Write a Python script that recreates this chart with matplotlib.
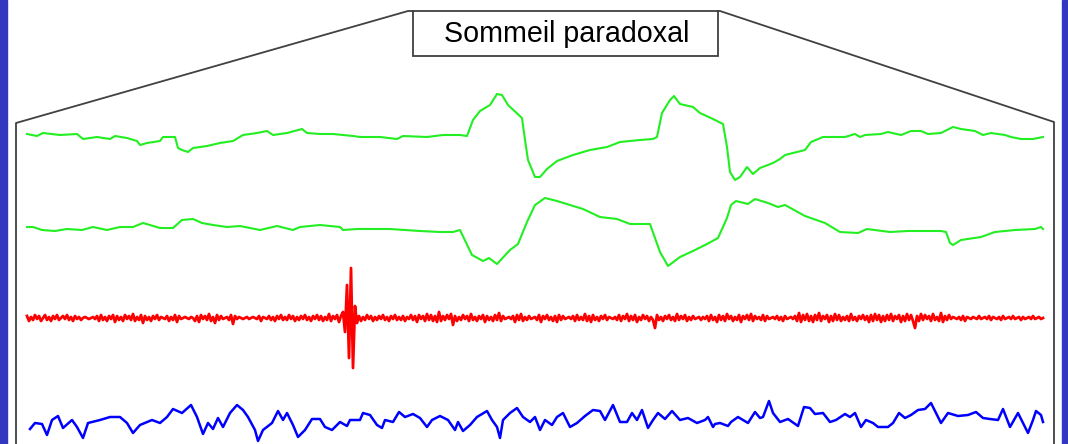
import matplotlib
matplotlib.use('Agg')
import numpy as np
from matplotlib import pyplot as plt
from matplotlib.patches import Rectangle

# EOG 1 (sample position, amplitude)
eog1_t = [27, 37, 43, 60, 77, 83, 97, 110, 115, 127, 137, 140, 147, 160, 163, 175, 178, 182, 188, 193,
          207, 220, 233, 243, 257, 267, 273, 287, 302, 307, 320, 333, 353, 360, 380, 397, 403, 427, 443, 460,
          467, 473, 480, 490, 497, 502, 508, 522, 525, 528, 535, 540, 547, 557, 573, 590, 607, 620, 640, 653,
          657, 662, 670, 674, 680, 693, 700, 713, 723, 727, 730, 735, 740, 747, 753, 760, 773, 780, 785, 805,
          811, 823, 845, 855, 860, 865, 881, 888, 901, 911, 921, 928, 941, 953, 961, 975, 983, 991, 1005, 1011,
          1021, 1033, 1043]
eog1_uv = [1, -1, 2, 0, 1, -4, -2, -4, -1, -3, -6, -10, -8, -6, -2, -2, -13, -15, -17, -13,
           -11, -8, -6, 0, 2, 4, 0, 2, 6, 2, 1, 1, -1, -2, -2, -4, -1, -2, 0, 0,
           -1, 15, 24, 30, 41, 40, 30, 17, -5, -25, -42, -42, -34, -26, -20, -15, -12, -7, -5, -4,
           -2, 22, 35, 39, 31, 28, 22, 16, 11, -12, -37, -45, -42, -32, -39, -33, -28, -24, -20, -15,
           -7, -2, -2, 1, -2, 0, 1, 3, 0, 4, 4, 1, 2, 8, 6, 4, 0, 2, 0, -2,
           -4, -4, -2]

# EOG 2
eog2_t = [27, 33, 42, 55, 67, 82, 93, 107, 120, 133, 143, 160, 173, 182, 193, 202, 213, 227, 240, 260,
          277, 293, 300, 320, 340, 343, 357, 390, 420, 440, 453, 460, 472, 483, 489, 497, 510, 518, 527, 535,
          545, 557, 583, 600, 617, 630, 650, 660, 668, 680, 693, 707, 718, 727, 731, 736, 748, 755, 768, 778,
          785, 805, 825, 840, 858, 867, 890, 908, 941, 946, 950, 953, 961, 981, 995, 1015, 1035, 1041, 1043]
eog2_uv = [1, 1, -2, -3, -1, -2, 1, -2, 1, 1, 5, 0, 0, 8, 9, 5, 3, 1, 2, -2,
           2, -2, 1, 3, 1, -2, -1, -1, -3, -4, -4, -2, -27, -33, -30, -36, -22, -16, 6, 23,
           30, 27, 19, 11, 9, 4, 4, -24, -38, -29, -23, -16, -10, 10, 23, 27, 24, 29, 25, 21,
           23, 12, 5, -4, -5, -1, -4, -3, -3, -4, -15, -17, -12, -9, -4, -2, -1, 1, -1]

# EMG, one value every 2 samples from sample 27
emg_uv = [2, -3, 1, -2, 3, -1, 2, -3, 0, 3, -2, 1, -3, 2, -1, 3, -2, 0, 2, -1,
          3, -2, 1, -3, 2, -1, 1, -2, 0, 1, 0, -1, 0, 1, -1, 2, -3, 3, -2, 1,
          -3, 2, -1, 3, -4, 2, -2, 1, -3, 3, -1, 2, -2, 4, -3, 1, -2, 3, -5, 2,
          -2, 1, -3, 2, -1, 3, -2, 1, 0, -1, 2, -3, 1, -2, 3, -4, 2, -1, 0, 1,
          0, -1, 1, 0, -3, 2, -4, 3, -1, 2, -2, 4, -3, 1, -5, 3, -2, 2, -1, 0,
          1, -2, 3, -6, 2, -1, 1, 0, -1, 0, 1, -1, 0, 1, 0, -1, 2, -3, 1, 0,
          -1, 2, -2, 1, -3, 2, -1, 3, -2, 1, -2, 3, -1, 2, -3, 1, -2, 2, -1, 3,
          -2, 1, -3, 2, -1, 3, -2, 2, -3, 1, -2, 4, -3, 2, -1, 3, -4, 2, 6, -14,
          33, -40, 50, -50, 12, -5, 2, -3, 1, -2, 3, -1, 2, -3, 1, -2, 2, -1, 3, -2,
          1, -3, 2, -1, 3, -2, 1, -2, 2, -3, 1, -1, 3, -2, 2, -4, 3, -1, 2, -3,
          4, -2, 3, -3, 2, -4, 6, -3, 2, -2, 3, -1, 4, -7, 2, -3, 1, -2, 3, -1,
          2, -3, 4, -2, 1, -3, 2, -1, 3, -4, 2, -2, 1, -3, 3, -2, 5, -3, 2, -1,
          0, 1, -1, 2, -4, 3, -2, 4, -3, 1, -2, 2, -1, 0, 1, -2, 3, -4, 2, -1,
          3, -2, 1, -3, 2, -4, 3, -2, 2, -1, 0, 1, -1, 2, -3, 3, -2, 1, -2, 4,
          -3, 2, -4, 3, -2, 1, -3, 2, -1, 3, -2, 1, 0, -1, 1, -2, 3, -3, 2, -1,
          4, -3, 2, -2, 3, -4, 1, -2, 3, -1, 2, -3, 1, -2, -10, 3, -2, 1, -3, 2,
          -1, 3, -2, 1, -3, 4, -2, 2, -1, 3, -3, 1, -2, 2, -1, 0, 1, -2, 1, -1,
          2, -3, 3, -2, 1, -4, 3, -2, 2, -3, 4, -1, 2, -3, 1, -2, 3, -4, 2, -1,
          3, -2, 4, -3, 2, -1, 1, -2, 3, -3, 2, -1, 0, 1, -1, 2, -2, 1, -3, 2,
          -1, 0, 1, -1, 2, -3, 5, -4, 3, -2, 4, -3, 2, -4, 3, -2, 5, -3, 2, -1,
          3, -4, 2, -3, 4, -2, 3, -3, 1, -2, 2, -3, 4, -2, 1, -3, 2, -1, 3, -2,
          2, -4, 3, -3, 4, -2, 3, -4, 2, -3, 3, -2, 4, -3, 2, -1, 3, -4, 2, -3,
          4, -2, 3, -3, -10, 2, -3, 4, -2, 3, -1, 2, -3, 4, -2, 1, -3, 5, -4, 2,
          -2, 3, -1, 1, 0, -1, 1, -2, 2, -3, 1, 0, -1, 1, 0, -1, 2, -1, 0, 1,
          -1, 2, -2, 1, 0, -1, 1, -2, 2, -1, 0, 1, -1, 2, -1, 0, 1, -2, 1, -1,
          0, 1, -1, 2, -1, 0, 1, -1, 0]

# EEG
eeg_t = [30, 35, 42, 47, 52, 58, 63, 72, 77, 83, 88, 100, 110, 120, 127, 133, 140, 152, 160, 167,
         173, 182, 191, 197, 203, 208, 213, 218, 223, 230, 237, 243, 248, 255, 258, 263, 272, 278, 283, 287,
         293, 298, 305, 312, 320, 325, 332, 340, 347, 350, 360, 363, 370, 377, 382, 385, 393, 399, 405, 413,
         420, 427, 432, 440, 448, 455, 458, 463, 470, 477, 487, 492, 497, 500, 503, 510, 517, 523, 530, 535,
         540, 545, 552, 557, 563, 570, 577, 585, 593, 600, 605, 613, 620, 627, 632, 637, 642, 648, 653, 658,
         665, 672, 680, 688, 697, 705, 708, 713, 715, 720, 728, 731, 738, 748, 755, 760, 763, 769, 773, 780,
         788, 798, 804, 810, 815, 823, 830, 836, 845, 850, 855, 861, 866, 873, 878, 888, 893, 899, 905, 911,
         918, 925, 931, 936, 941, 948, 958, 968, 976, 983, 990, 998, 1003, 1010, 1018, 1023, 1028, 1033, 1036, 1041,
         1043]
eeg_uv = [-9, -3, -4, -15, 0, 4, -8, 0, -7, -18, -3, 0, 3, 3, -3, -13, -5, 0, -3, 3,
          11, 7, 15, 3, -14, -3, -9, 2, -7, 7, 15, 10, 3, -10, -21, -10, -3, 9, 0, 7,
          -5, -17, -10, 1, 1, -7, -10, -2, -6, 0, 0, 7, 5, -5, -8, 0, -2, 8, 3, 6,
          2, -7, 0, 4, 0, -10, -2, -11, -5, 3, 9, 0, -7, -18, 0, 7, 12, 3, -2, 3,
          -10, 0, -5, 3, 7, -7, -3, 4, 10, 9, 0, 15, -2, -2, 7, 0, 10, -8, 0, 7,
          1, 9, 0, 2, -3, 0, 3, -7, -4, -3, -6, -2, 3, -3, 8, 2, 3, 19, 7, -2,
          1, -6, 13, 12, 6, 7, -2, 0, 6, 3, 7, -7, 0, -3, -7, -7, -3, 7, 2, 5,
          10, 11, 17, 7, -3, 7, 4, 5, 8, 2, 1, 0, 11, -7, 7, -3, -13, 0, 9, 5,
          -2]

# baseline of each channel
offsets = {'eog1': 135, 'eog2': 228, 'emg': 318, 'eeg': 420}

fig = plt.figure(figsize=(10.68, 4.44), dpi=100)
ax: plt.Axes = fig.add_axes([0, 0, 1, 1])
ax.set_xlim(0, 1068)
ax.set_ylim(444, 0)
ax.axis('off')

# side bars
side_color = '#3236c0'
ax.add_patch(Rectangle((0, 0), 7, 444, color=side_color, zorder=1))
ax.add_patch(Rectangle((1062, 0), 6, 444, color=side_color, zorder=1))

# zoom frame
frame_color = '#404040'
ax.plot([16, 16, 408, 413], [444, 123, 11, 11], color=frame_color, lw=1.3)
ax.plot([718, 720, 1054, 1054], [11, 11, 122, 444], color=frame_color, lw=1.3)
ax.add_patch(Rectangle((413, 11), 305, 45, fill=False, edgecolor=frame_color, lw=1.3))
ax.text(567, 34, 'Sommeil paradoxal', ha='center', va='center', fontsize=20.6,
        family=['Liberation Sans', 'DejaVu Sans'], color='black')

# traces
ax.plot(eog1_t, offsets['eog1'] - np.array(eog1_uv), color='#22ee22', lw=1.5)
ax.plot(eog2_t, offsets['eog2'] - np.array(eog2_uv), color='#22ee22', lw=1.5)
emg_t = 27 + 2 * np.arange(len(emg_uv))
ax.plot(emg_t, offsets['emg'] - np.array(emg_uv), color='#ff0000', lw=2.0)
ax.plot(eeg_t, offsets['eeg'] - np.array(eeg_uv), color='#0000ff', lw=1.8)

fig.savefig('out.png', dpi=100)
